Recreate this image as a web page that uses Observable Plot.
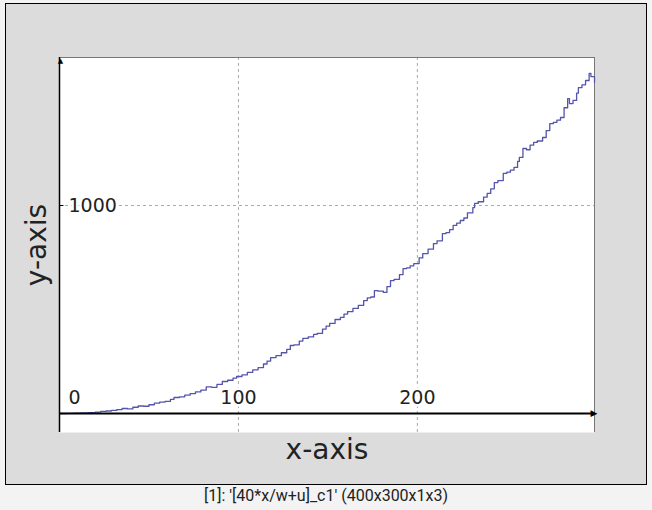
<!DOCTYPE html>
<html>
<head>
<meta charset="utf-8">
<script src="https://cdn.jsdelivr.net/npm/d3@7"></script>
<script src="https://cdn.jsdelivr.net/npm/@observablehq/plot@0.6"></script>
<style>
  html, body { margin: 0; padding: 0; background: #f3f3f3; width: 652px; height: 510px; overflow: hidden; }
  #frame { position: absolute; left: 5px; top: 3px; width: 640px; height: 480px; border: 1px solid #000; background: #dcdcdc; }
  #caption { position: absolute; left: 0; top: 486px; width: 652px; text-align: center; font-family: Roboto, sans-serif; font-size: 16px; color: #222; }
</style>
</head>
<body>
<div id="frame"></div>
<div id="caption"></div>
<script>
const caption = "[1]: '[40*x/w+u]_c1' (400x300x1x3)";
const xLabel = "x-axis";
const yLabel = "y-axis";
const xTicks = [0, 100, 200];
const yTicks = [1000];
const xDomain = [0, 299];
const yDomain = [-91.3, 1711.5];

const xs = [0,4,8,12,16,20,23,26,29,32,35,38,41,44,47,50,53,56,59,62,64,67,70,73,76,79,82,85,88,91,94,97,99,102,105,108,111,114,116,118,121,124,127,129,131,134,136,139,142,144,147,149,151,154,157,159,161,164,167,170,172,174,176,178,181,183,185,187,190,192,194,196,198,201,203,206,209,211,214,216,218,220,222,224,226,228,231,232,234,237,239,241,243,245,248,250,252,254,256,257,259,261,263,265,267,270,272,274,276,278,280,282,284,285,287,289,290,292,294,296,297,299];
const ys = [0,1,2,3,4,7,10,12,15,19,24,22,30,36,35,42,50,55,58,68,77,80,88,96,104,112,128,126,140,154,160,170,178,186,198,210,221,238,252,269,278,292,308,327,330,348,361,368,380,385,406,420,433,452,462,478,490,505,520,543,556,560,591,588,582,610,639,645,668,697,700,710,721,748,769,790,817,830,865,870,884,904,915,928,940,965,990,1010,1018,1040,1058,1080,1110,1120,1154,1160,1170,1183,1212,1231,1274,1268,1290,1303,1310,1327,1360,1394,1400,1410,1423,1470,1514,1490,1505,1540,1567,1580,1601,1635,1620,1591];

const data = xs.map((x, i) => ({x, y: ys[i]}));

const chart = Plot.plot({
  width: 640,
  height: 480,
  marginLeft: 53,
  marginRight: 52,
  marginTop: 53,
  marginBottom: 52,
  style: {background: "transparent", fontFamily: "DejaVu Sans", overflow: "visible"},
  x: {type: "linear", domain: xDomain, axis: null},
  y: {type: "linear", domain: yDomain, axis: null},
  marks: [
    Plot.frame({fill: "white", stroke: "none"}),
    Plot.ruleX(xTicks.filter(d => d > 0), {stroke: "#aaa", strokeDasharray: "3,3"}),
    Plot.ruleY(yTicks, {stroke: "#aaa", strokeDasharray: "3,3"}),
    Plot.ruleY([yDomain[1]], {stroke: "#777"}),
    Plot.ruleX([xDomain[1]], {stroke: "#777"}),
    Plot.line(data, {x: "x", y: "y", stroke: "#5454ac", strokeWidth: 1.3, curve: "step-after"}),
    Plot.ruleY([0], {stroke: "black", strokeWidth: 2}),
    Plot.ruleX([0], {stroke: "black", strokeWidth: 1.5}),
    Plot.ruleY(yTicks, {x1: () => xDomain[0], x2: () => xDomain[0] + 2.5, y: d => d, stroke: "black"}),
    Plot.text([xDomain[1]], {x: d => d, y: () => 0, text: () => "\u25B6", fontSize: 9, textAnchor: "end", dx: 3, fill: "black"}),
    Plot.text([yDomain[1]], {x: () => xDomain[0], y: d => d, text: () => "\u25B2", fontSize: 7, dy: 3, dx: 1, fill: "black"}),
    Plot.text(xTicks.filter(d => d > 0), {x: d => d, y: () => 0, text: d => String(d), dy: -16, fontSize: 19, fill: "#222", stroke: "white", strokeWidth: 5}),
    Plot.text(xTicks.filter(d => d === 0), {x: d => d, y: () => 0, text: d => String(d), dy: -16, dx: 15, fontSize: 19, fill: "#222"}),
    Plot.text(yTicks, {x: () => xDomain[0], y: d => d, text: d => String(d), textAnchor: "start", dx: 9, fontSize: 19, fill: "#222", stroke: "white", strokeWidth: 5}),
    Plot.text([xLabel], {frameAnchor: "bottom", dy: 26, fontSize: 28, fill: "#222"}),
    Plot.text([yLabel], {frameAnchor: "left", textAnchor: "middle", rotate: -90, dx: -22, fontSize: 28, fill: "#222"})
  ]
});
document.getElementById("frame").appendChild(chart);
document.getElementById("caption").textContent = caption;
</script>
</body>
</html>
